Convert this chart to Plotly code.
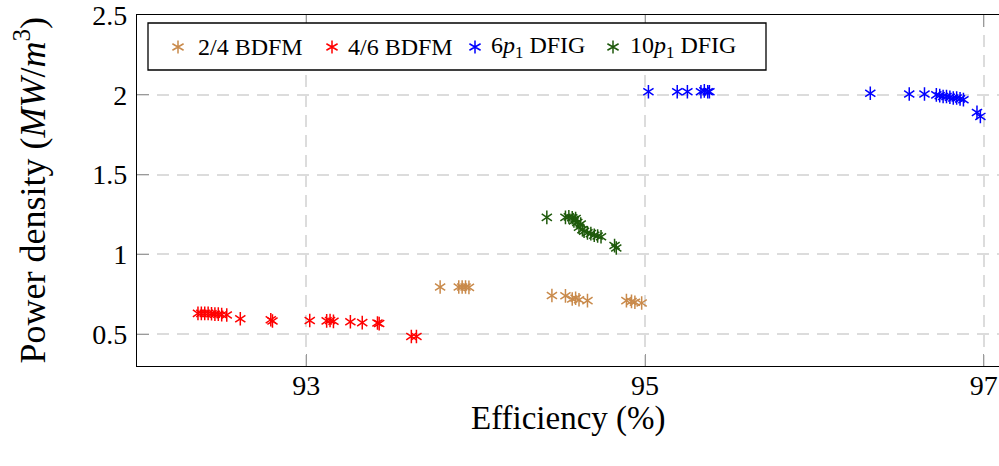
import plotly.graph_objects as go

# Efficiency (%) and power density (MW/m^3) of each design
bdfm24_eff = [93.79, 93.90, 93.92, 93.94, 93.96, 94.45, 94.53, 94.57, 94.59, 94.61,
              94.66, 94.89, 94.92, 94.94, 94.98]
bdfm24_pd = [0.795, 0.795, 0.795, 0.795, 0.793, 0.742, 0.740, 0.720, 0.725, 0.715,
             0.710, 0.710, 0.705, 0.700, 0.695]

bdfm46_eff = [92.36, 92.38, 92.40, 92.42, 92.44, 92.46, 92.48, 92.50, 92.53, 92.61,
              92.79, 92.80, 93.02, 93.12, 93.14, 93.16, 93.26, 93.33, 93.42, 93.43,
              93.62, 93.65]
bdfm46_pd = [0.630, 0.630, 0.630, 0.630, 0.628, 0.625, 0.625, 0.622, 0.620, 0.596,
             0.590, 0.582, 0.585, 0.583, 0.585, 0.580, 0.577, 0.572, 0.570, 0.566,
             0.485, 0.485]

dfig6_eff = [95.02, 95.19, 95.25, 95.33, 95.35, 95.37, 95.38, 96.33, 96.56, 96.65,
             96.72, 96.74, 96.76, 96.78, 96.80, 96.82, 96.84, 96.86, 96.88, 96.96,
             96.98]
dfig6_pd = [2.020, 2.020, 2.020, 2.020, 2.025, 2.020, 2.020, 2.010, 2.005, 2.005,
            2.000, 1.995, 1.990, 1.990, 1.985, 1.980, 1.980, 1.975, 1.970, 1.890,
            1.865]

dfig10_eff = [94.42, 94.53, 94.55, 94.57, 94.59, 94.58, 94.60, 94.62, 94.61, 94.63,
              94.64, 94.66, 94.68, 94.70, 94.72, 94.74, 94.82, 94.83]
dfig10_pd = [1.232, 1.232, 1.235, 1.230, 1.225, 1.210, 1.200, 1.190, 1.170, 1.155,
             1.145, 1.135, 1.130, 1.120, 1.115, 1.110, 1.055, 1.040]

series_names = ["2/4 BDFM", "4/6 BDFM",
                "6<i>p</i><sub>1</sub> DFIG", "10<i>p</i><sub>1</sub> DFIG"]
series_colors = ["#c98a4b", "#ff0000", "#0000ff", "#1f5a0c"]
series_x = [bdfm24_eff, bdfm46_eff, dfig6_eff, dfig10_eff]
series_y = [bdfm24_pd, bdfm46_pd, dfig6_pd, dfig10_pd]

x_tickvals = [93, 95, 97]
x_ticktext = ["93", "95", "97"]
y_tickvals = [0.5, 1.0, 1.5, 2.0, 2.5]
y_ticktext = ["0.5", "1", "1.5", "2", "2.5"]
x_range = [92.0, 97.09]
y_range = [0.3, 2.5008]

FONT = "Liberation Serif"
W, H = 999, 466
ML, MR, MT, MB = 137, 0, 15, 100
PW, PH = W - ML - MR, H - MT - MB


def px_x(px):
    """Pixel column -> paper x."""
    return (px - ML) / PW


def px_y(py):
    """Pixel row -> paper y."""
    return (H - MB - py) / PH


fig = go.Figure()

# six-armed asterisk marks built from a pair of Y glyphs
for name, xs, ys, color in zip(series_names, series_x, series_y, series_colors):
    for sym in ("y-up-open", "y-down-open"):
        fig.add_trace(go.Scatter(
            x=xs, y=ys, mode="markers", name=name, showlegend=False,
            hoverinfo="x+y+name",
            marker=dict(symbol=sym, size=8.5, color=color,
                        line=dict(color=color, width=1.5)),
        ))

grid_style = dict(showgrid=True, gridcolor="#dcdcdc", gridwidth=1.5,
                  griddash="12px,8px", zeroline=False)
tick_style = dict(ticks="inside", ticklen=12, tickwidth=1.3, tickcolor="#9a9a9a",
                  ticklabeloverflow="allow",
                  tickfont=dict(family=FONT, size=28, color="black"))

fig.update_layout(
    width=W, height=H,
    margin=dict(l=ML, r=MR, t=MT, b=MB),
    paper_bgcolor="white", plot_bgcolor="white",
    showlegend=False,
    xaxis=dict(range=x_range, tickmode="array", tickvals=x_tickvals,
               ticktext=x_ticktext, showline=True, linecolor="black",
               linewidth=1.3, mirror="ticks", ticklabelstandoff=-6,
               **grid_style, **tick_style),
    yaxis=dict(range=y_range, tickmode="array", tickvals=y_tickvals,
               ticktext=y_ticktext, showline=True, linecolor="black",
               linewidth=1.3, mirror=False, ticklabelstandoff=3,
               **grid_style, **tick_style),
    yaxis2=dict(range=y_range, overlaying="y", side="right", anchor="x",
                tickmode="array", tickvals=y_tickvals, showticklabels=False,
                showgrid=False, zeroline=False, showline=False,
                ticks="inside", ticklen=12, tickwidth=1.3, tickcolor="#9a9a9a"),
)

# axis titles
fig.add_annotation(text="Efficiency (%)", xref="paper", yref="paper",
                   x=0.5, y=px_y(418), xanchor="center", yanchor="middle",
                   showarrow=False, font=dict(family=FONT, size=33, color="black"))
fig.add_annotation(text="Power density (<i>MW</i>/<i>m</i><sup>3</sup>)",
                   xref="paper", yref="paper", x=px_x(30), y=0.5,
                   xanchor="center", yanchor="middle", textangle=-90,
                   showarrow=False, font=dict(family=FONT, size=36, color="black"))

# legend box with one asterisk and label per series
fig.add_shape(type="rect", xref="paper", yref="paper",
              x0=px_x(148), x1=px_x(766), y0=px_y(70), y1=px_y(23),
              line=dict(color="black", width=1.3), fillcolor="white", layer="above")
legend_mark_px = [178, 332, 475, 613]
legend_text_px = [196, 346, 489, 628]
legend_row = px_y(47)
star = "M0,-6.5L0,6.5M-5.6,-3.25L5.6,3.25M-5.6,3.25L5.6,-3.25"
for name, color, mx, tx in zip(series_names, series_colors, legend_mark_px, legend_text_px):
    fig.add_shape(type="path", xref="paper", yref="paper",
                  xsizemode="pixel", ysizemode="pixel",
                  xanchor=px_x(mx), yanchor=legend_row, path=star,
                  line=dict(color=color, width=1.5), layer="above")
    fig.add_annotation(text=name, xref="paper", yref="paper", x=px_x(tx),
                       y=legend_row, xanchor="left", yanchor="middle",
                       showarrow=False,
                       font=dict(family=FONT, size=24, color="black"))

fig.write_html("out.html")
